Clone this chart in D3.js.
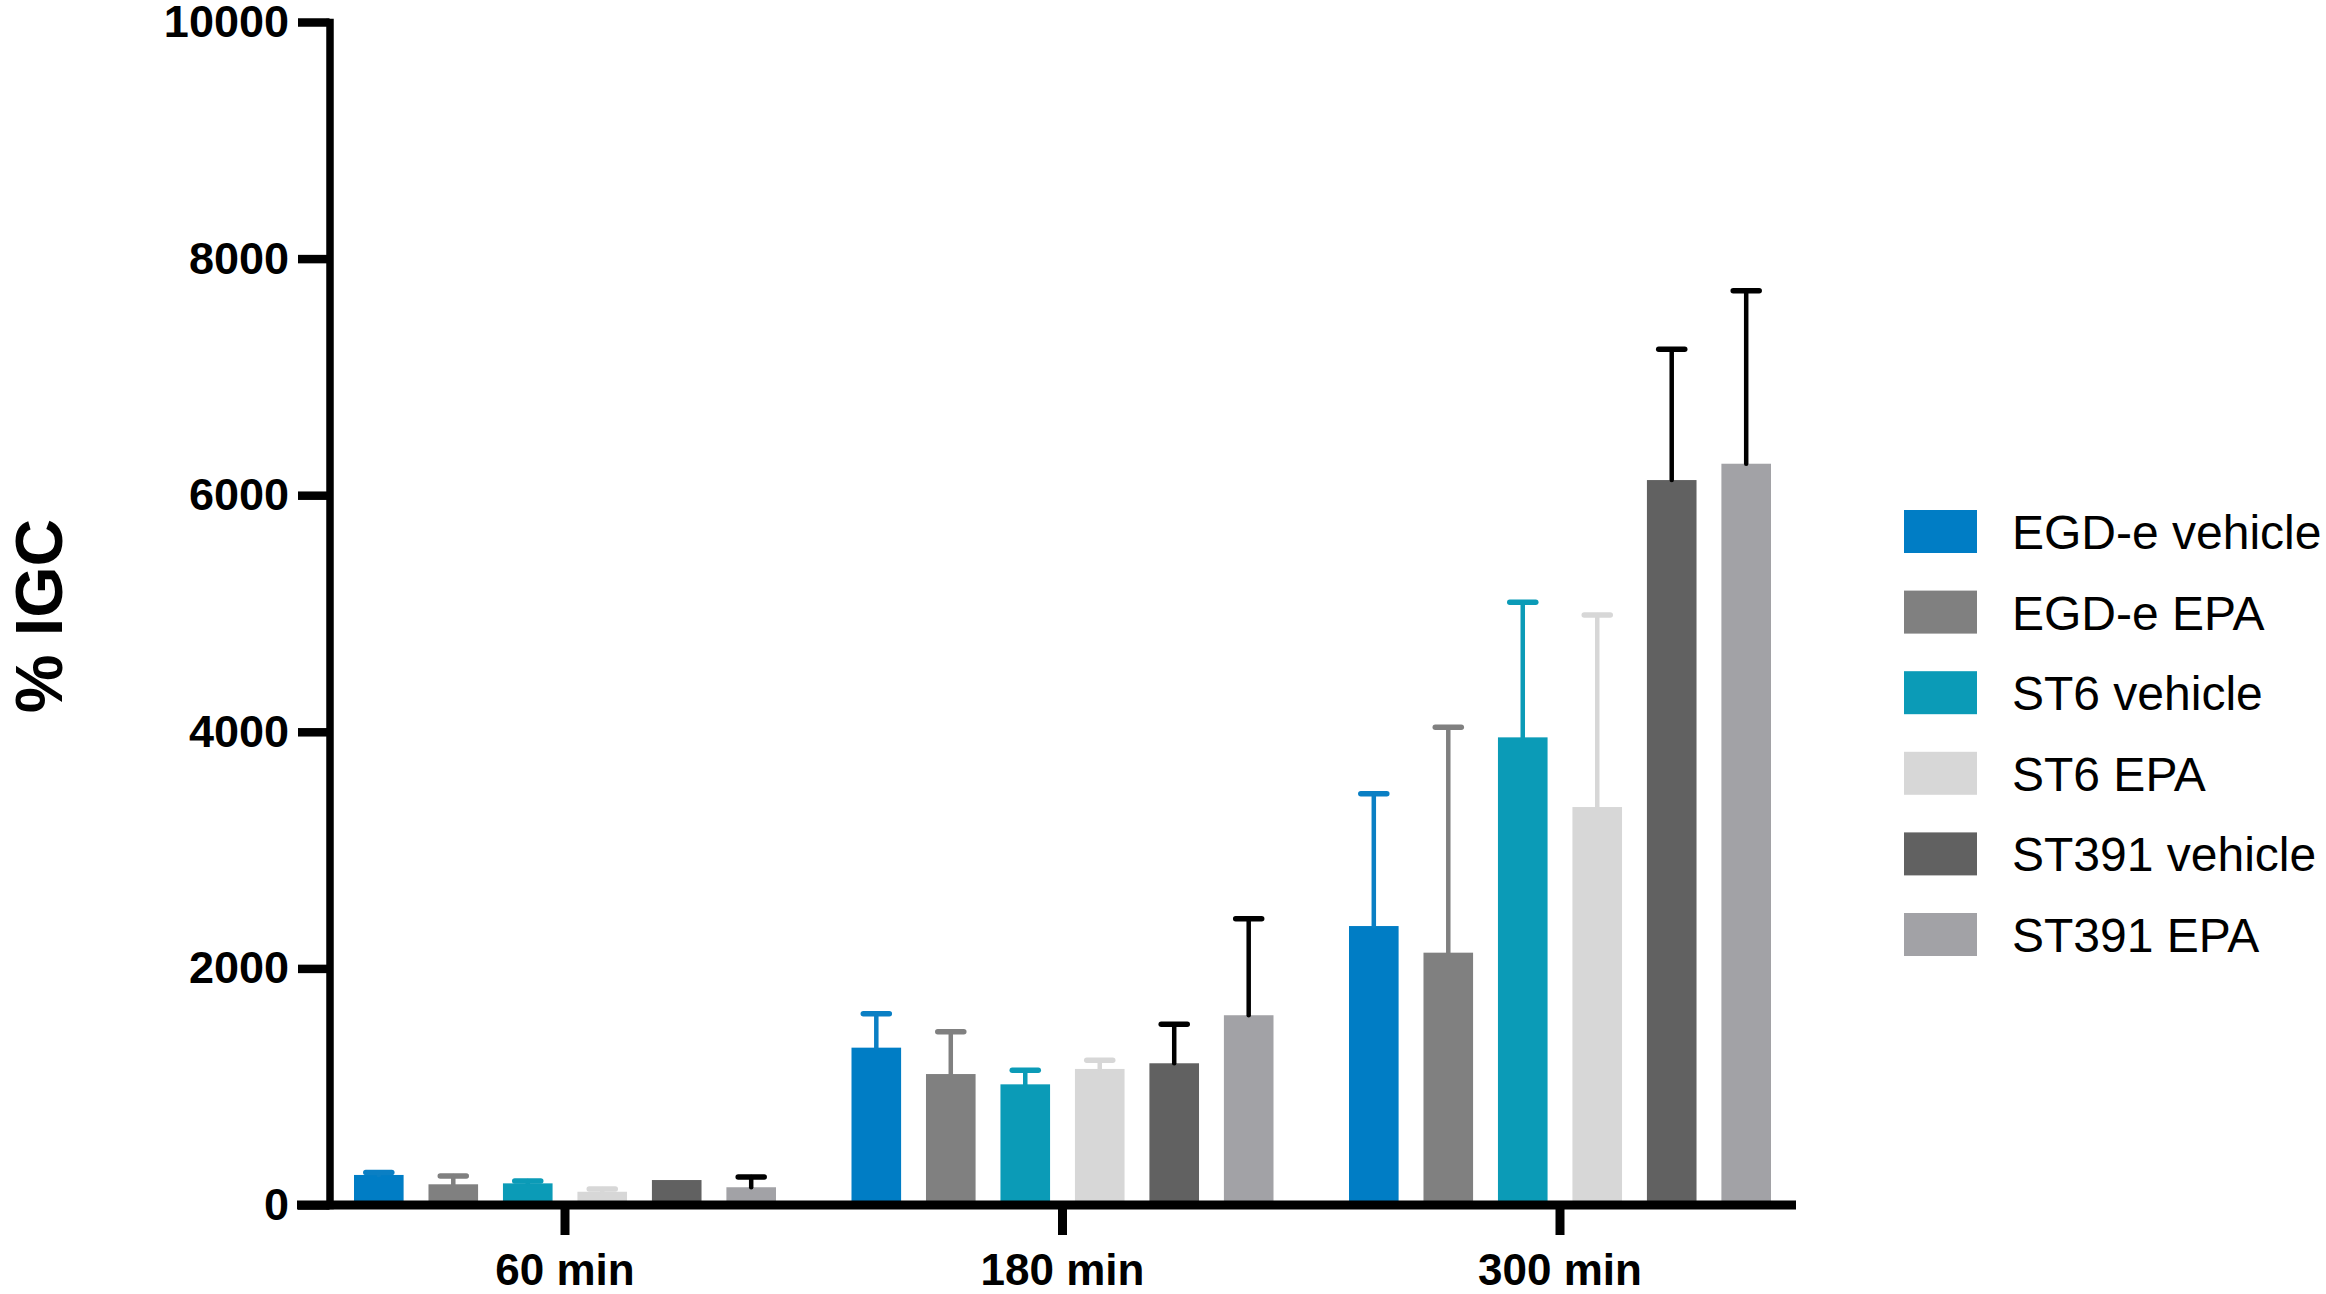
<!DOCTYPE html>
<html>
<head>
<meta charset="utf-8">
<script src="https://cdn.jsdelivr.net/npm/d3@7"></script>
<style>
  body { margin: 0; background: #fff; }
  text { font-family: "Liberation Sans", Arial, sans-serif; }
</style>
</head>
<body>
<div id="barChart"></div>
<script>
// data
var groups = ["60 min", "180 min", "300 min"];
var series = ["EGD-e vehicle", "EGD-e EPA", "ST6 vehicle", "ST6 EPA", "ST391 vehicle", "ST391 EPA"];
var egdVehicle = [254, 1330, 2358];
var egdEPA = [175, 1107, 2133];
var st6Vehicle = [183, 1020, 3953];
var st6EPA = [112, 1150, 3364];
var st391Vehicle = [211, 1198, 6128];
var st391EPA = [150, 1604, 6266];
// upper error (SD)
var egdVehicleErr = [20, 287, 1119];
var egdEPAErr = [70, 358, 1905];
var st6VehicleErr = [20, 119, 1142];
var st6EPAErr = [23, 73, 1623];
var st391VehicleErr = [0, 329, 1105];
var st391EPAErr = [87, 816, 1463];
var yTicks = [0, 2000, 4000, 6000, 8000, 10000];

var means = [egdVehicle, egdEPA, st6Vehicle, st6EPA, st391Vehicle, st391EPA];
var errs = [egdVehicleErr, egdEPAErr, st6VehicleErr, st6EPAErr, st391VehicleErr, st391EPAErr];
var colors = ["#007dc5", "#808080", "#0b9bb7", "#d7d7d7", "#616161", "#a2a2a6"];
var errColors = ["#0a7fc4", "#808080", "#0b9bb7", "#d7d7d7", "#000000", "#000000"];

var W = 2326, H = 1294;
var axisX = 329.5, axisY = 1205;

var svg = d3.select("#barChart")
  .append("svg")
    .attr("width", W)
    .attr("height", H)
    .style("display", "block");

var y = d3.scaleLinear().domain([0, 10000]).range([axisY, 22]);

var x0 = d3.scaleBand()
  .domain(groups)
  .range([316.25, 1808.75])
  .padding(0);

var x1 = d3.scaleBand()
  .domain(series)
  .range([-211, 211])
  .paddingInner(0.334)
  .paddingOuter(0);

var rows = [];
groups.forEach(function(g, gi) {
  series.forEach(function(s, si) {
    rows.push({ group: g, series: s, si: si, value: means[si][gi], err: errs[si][gi] });
  });
});

function barX(d) { return x0(d.group) + x0.bandwidth() / 2 + x1(d.series); }
function barMid(d) { return barX(d) + x1.bandwidth() / 2; }

// bars
svg.selectAll("rect.bar")
  .data(rows)
  .enter()
  .append("rect")
    .attr("class", "bar")
    .attr("x", barX)
    .attr("y", function(d) { return y(d.value); })
    .attr("width", x1.bandwidth())
    .attr("height", function(d) { return y(0) - y(d.value); })
    .attr("fill", function(d) { return colors[d.si]; });

// error bars (upper only)
var eb = svg.selectAll("g.err")
  .data(rows.filter(function(d) { return d.err > 0; }))
  .enter()
  .append("g")
    .attr("class", "err")
    .attr("stroke", function(d) { return errColors[d.si]; })
    .attr("stroke-linecap", "round");

eb.append("line")
  .attr("x1", barMid).attr("x2", barMid)
  .attr("y1", function(d) { return y(d.value); })
  .attr("y2", function(d) { return y(d.value + d.err); })
  .attr("stroke-width", 4.5);

eb.append("line")
  .attr("x1", function(d) { return barMid(d) - 13; })
  .attr("x2", function(d) { return barMid(d) + 13; })
  .attr("y1", function(d) { return y(d.value + d.err); })
  .attr("y2", function(d) { return y(d.value + d.err); })
  .attr("stroke-width", 5.5);

// Y axis
var gy = svg.append("g")
  .attr("transform", "translate(" + axisX + ",0)")
  .call(d3.axisLeft(y).tickValues(yTicks).tickSize(31.5).tickSizeOuter(0).tickPadding(9)
    .tickFormat(d3.format("d")));
gy.select(".domain").attr("stroke-width", 7.5).attr("stroke-linecap", "square");
gy.selectAll(".tick line").attr("stroke-width", 8.5);
gy.selectAll(".tick text")
  .style("font-size", "45px")
  .style("font-weight", "bold")
  .attr("fill", "#000");

// X axis
var gx = svg.append("g")
  .attr("transform", "translate(0," + axisY + ")")
  .call(d3.axisBottom(x0).tickSize(30).tickSizeOuter(0).tickPadding(19));
gx.select(".domain").remove();
gx.append("line")
  .attr("x1", 297).attr("x2", 1796)
  .attr("y1", 0).attr("y2", 0)
  .attr("stroke", "#000")
  .attr("stroke-width", 9);
gx.selectAll(".tick line").attr("stroke-width", 9);
gx.selectAll(".tick text")
  .style("font-size", "44px")
  .style("font-weight", "bold")
  .attr("fill", "#000");

// y axis title
svg.append("text")
  .attr("transform", "translate(62,616) rotate(-90)")
  .style("text-anchor", "middle")
  .style("font-size", "66px")
  .style("font-weight", "bold")
  .text("% IGC");

// legend
var legend = svg.selectAll("g.legend")
  .data(series)
  .enter()
  .append("g")
    .attr("class", "legend")
    .attr("transform", function(d, i) { return "translate(1904," + (510 + i * 80.6) + ")"; });

legend.append("rect")
  .attr("width", 73)
  .attr("height", 43)
  .attr("fill", function(d, i) { return colors[i]; });

legend.append("text")
  .attr("x", 108)
  .attr("y", 39)
  .style("font-size", "48px")
  .text(function(d) { return d; });
</script>
</body>
</html>
